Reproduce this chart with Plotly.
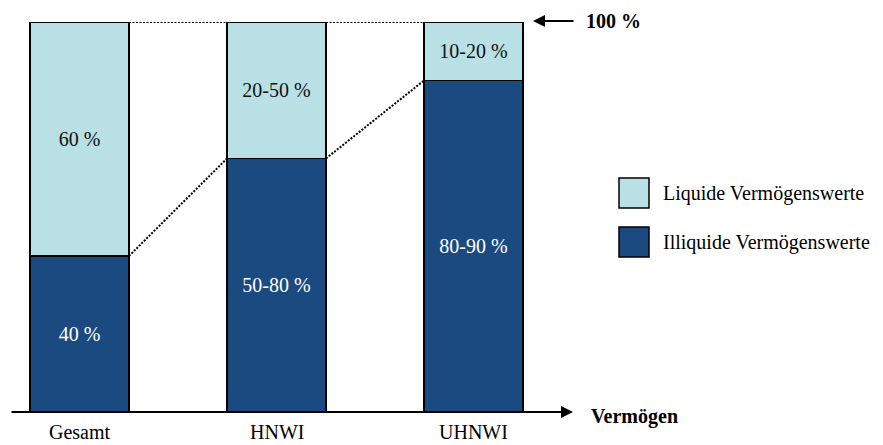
import plotly.graph_objects as go

# Asset structure by wealth segment (share of total assets, %)
segments = ["Gesamt", "HNWI", "UHNWI"]
illiquid = [40, 65, 85]          # Illiquide Vermögenswerte
liquid = [60, 35, 15]            # Liquide Vermögenswerte
illiquid_labels = ["40 %", "50-80 %", "80-90 %"]
liquid_labels = ["60 %", "20-50 %", "10-20 %"]
series_names = ["Liquide Vermögenswerte", "Illiquide Vermögenswerte"]
axis_title = "Vermögen"
top_label = "100 %"

W, H = 883, 445
M_T, M_B = 22, 33
PLOT_H = H - M_T - M_B
X_CENTER0, X_STEP = 79.5, 197.0
BAR_W = 99 / X_STEP

LIGHT = "#B9E0E4"
DARK = "#1B4A80"
FONT = "Liberation Serif"
FS = 20


def paper_x(px):
    return px / W


def paper_y(py):
    return (H - M_B - py) / PLOT_H


xs = list(range(len(segments)))

fig = go.Figure()
fig.add_trace(go.Bar(
    x=xs, y=illiquid, width=BAR_W, name=series_names[1],
    marker=dict(color=DARK, line=dict(color="black", width=1.5)),
    text=illiquid_labels, textposition="inside", insidetextanchor="middle",
    textfont=dict(family=FONT, size=FS, color="white"),
    constraintext="none", hoverinfo="skip",
))
fig.add_trace(go.Bar(
    x=xs, y=liquid, width=BAR_W, name=series_names[0],
    marker=dict(color=LIGHT, line=dict(color="black", width=1.5)),
    text=liquid_labels, textposition="inside", insidetextanchor="middle",
    textfont=dict(family=FONT, size=FS, color="#111111"),
    constraintext="none", hoverinfo="skip",
))

# Dotted connectors between neighbouring bars (segment boundary and 100 % top)
for i in range(len(segments) - 1):
    top_i = illiquid[i] + liquid[i]
    top_j = illiquid[i + 1] + liquid[i + 1]
    for ya, yb in ((illiquid[i], illiquid[i + 1]), (top_i, top_j)):
        fig.add_trace(go.Scatter(
            x=[xs[i] + BAR_W / 2, xs[i + 1] - BAR_W / 2], y=[ya, yb],
            mode="lines", line=dict(color="black", width=2, dash="2px,1.5px"),
            hoverinfo="skip", showlegend=False, cliponaxis=False,
        ))

annotations = []
# Category labels under the baseline
for x, s in zip(xs, segments):
    annotations.append(dict(x=x, y=0, xref="x", yref="y", text=s, showarrow=False,
                            yanchor="middle", yshift=-20, borderpad=0,
                            font=dict(family=FONT, size=FS, color="black")))

# Horizontal axis with arrow
annotations.append(dict(x=paper_x(573), y=0, xref="paper", yref="y", ax=-(573 - 10), ay=0,
                        text="", showarrow=True, arrowhead=2, arrowsize=1.2,
                        arrowwidth=2, arrowcolor="black", standoff=0))
annotations.append(dict(x=paper_x(589), y=paper_y(416), xref="paper", yref="paper",
                        text="<b>%s</b>" % axis_title, showarrow=False, xanchor="left",
                        yanchor="middle", font=dict(family=FONT, size=FS, color="black")))

# 100 % marker
annotations.append(dict(x=paper_x(533), y=paper_y(21), xref="paper", yref="paper", ax=42, ay=0,
                        text="", showarrow=True, arrowhead=2, arrowsize=1.2,
                        arrowwidth=2, arrowcolor="black", standoff=0))
annotations.append(dict(x=paper_x(584), y=paper_y(21), xref="paper", yref="paper",
                        text="<b>%s</b>" % top_label, showarrow=False, xanchor="left",
                        yanchor="middle", font=dict(family=FONT, size=FS, color="black")))

# Legend drawn as swatches with labels
shapes = []
for (y0, y1), color, name in (((178, 208), LIGHT, series_names[0]),
                              ((227, 257), DARK, series_names[1])):
    shapes.append(dict(type="rect", xref="paper", yref="paper",
                       x0=paper_x(619), x1=paper_x(649), y0=paper_y(y1), y1=paper_y(y0),
                       fillcolor=color, line=dict(color="black", width=1.5)))
    annotations.append(dict(x=paper_x(661), y=paper_y((y0 + y1) / 2), xref="paper", yref="paper",
                            text=name, showarrow=False, xanchor="left", yanchor="middle",
                            font=dict(family=FONT, size=FS, color="black")))

fig.update_layout(
    width=W, height=H, barmode="stack", showlegend=False,
    margin=dict(l=0, r=0, t=M_T, b=M_B, pad=0),
    paper_bgcolor="white", plot_bgcolor="white",
    font=dict(family=FONT),
    xaxis=dict(range=[-X_CENTER0 / X_STEP, (W - X_CENTER0) / X_STEP], visible=False, fixedrange=True),
    yaxis=dict(range=[0, 100], visible=False, fixedrange=True),
    annotations=annotations, shapes=shapes,
)

fig.write_html("out.html")
